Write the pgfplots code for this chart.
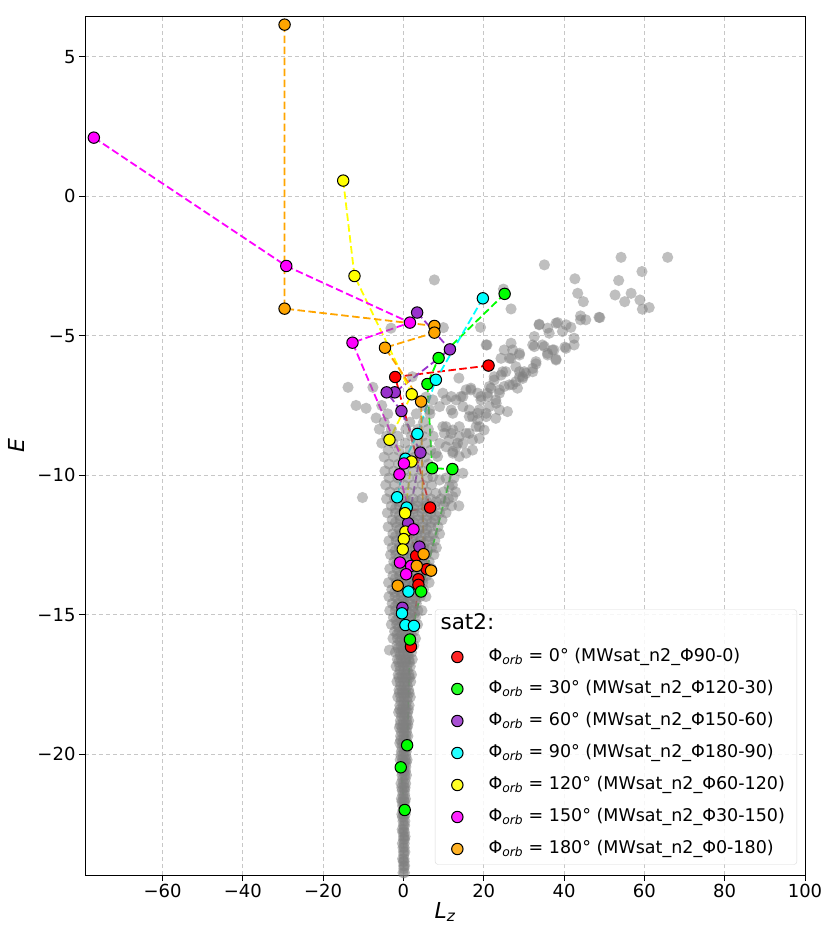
\documentclass[border=0pt]{standalone}
\usepackage{fontspec}
\setmainfont{DejaVu Sans}
\usepackage{pgfplots}
\usepackage{pgfplotstable}
\pgfplotsset{compat=1.18}

\definecolor{cRed}{RGB}{255,0,0}
\definecolor{cGreen}{RGB}{0,255,0}
\definecolor{cPurple}{RGB}{153,50,204}
\definecolor{cCyan}{RGB}{0,255,255}
\definecolor{cYellow}{RGB}{255,255,0}
\definecolor{cMagenta}{RGB}{255,0,255}
\definecolor{cOrange}{RGB}{255,165,0}

\pgfplotstableread{
x y
21.2 -6.07
-2.06 -6.48
6.64 -11.16
0.42 -11.30
3.16 -12.89
5.80 -13.37
3.73 -13.73
3.73 -13.93
1.87 -16.15
}\redData
\pgfplotstableread{
x y
25.2 -3.50
8.76 -5.80
5.97 -6.73
7.14 -9.75
12.19 -9.78
4.40 -14.17
1.62 -15.89
0.92 -19.68
-0.67 -20.47
0.32 -22.00
}\greenData
\pgfplotstableread{
x y
3.41 -4.17
11.57 -5.49
-2.16 -7.03
-4.18 -7.03
-0.50 -7.70
4.23 -9.19
1.17 -11.72
3.98 -12.56
-0.25 -14.75
}\purpleData
\pgfplotstableread{
x y
19.78 -3.66
8.08 -6.58
3.48 -8.52
0.50 -9.41
-1.57 -10.79
0.82 -11.16
1.24 -14.17
-0.37 -14.95
0.50 -15.37
2.61 -15.40
}\cyanData
\pgfplotstableread{
x y
-15.0 0.56
-12.19 -2.86
2.06 -7.10
-3.48 -8.73
1.99 -9.51
0.42 -11.36
0.50 -12.02
0.07 -12.29
-0.17 -12.66
}\yellowData
\pgfplotstableread{
x y
-77.1 2.10
-29.18 -2.50
1.62 -4.53
-12.69 -5.25
0.12 -9.58
-1.0 -9.97
2.49 -11.94
-0.87 -13.13
1.92 -13.25
0.67 -13.55
}\magentaData
\pgfplotstableread{
x y
-29.6 6.15
-29.6 -4.03
7.71 -4.65
7.71 -4.89
-4.60 -5.43
4.40 -7.36
5.02 -12.83
6.89 -13.42
3.31 -13.25
-1.42 -13.96
}\orangeData

\pgfplotstableread{
x y
-0.1 -24.25
0.25 -24.25
0.05 -24.0
0.3 -24.0
-0.2 -23.75
0.15 -23.75
0.0 -23.5
0.35 -23.5
-0.25 -23.2
0.2 -23.2
0.05 -22.95
0.4 -22.95
-0.3 -22.7
0.1 -22.7
-0.1 -22.4
0.35 -22.4
-0.4 -22.15
0.05 -22.15
0.45 -22.15
-0.2 -21.85
0.25 -21.85
-0.5 -21.6
0.0 -21.6
0.5 -21.6
-0.3 -21.3
0.3 -21.3
-0.6 -21.05
0.05 -21.05
0.55 -21.05
-0.35 -20.75
0.3 -20.75
0.75 -20.75
-0.6 -20.45
0.0 -20.45
0.6 -20.45
-0.8 -20.2
-0.2 -20.2
0.45 -20.2
0.9 -20.2
-0.5 -19.9
0.15 -19.9
0.7 -19.9
-0.9 -19.6
-0.25 -19.6
0.35 -19.6
0.95 -19.6
-0.7 -19.35
0.05 -19.35
0.65 -19.35
1.1 -19.35
-1.0 -19.05
-0.35 -19.05
0.3 -19.05
0.9 -19.05
-0.75 -18.8
0.0 -18.8
0.75 -18.8
1.3 -18.8
-1.2 -18.5
-0.5 -18.5
0.3 -18.5
1.05 -18.5
-0.9 -18.25
-0.1 -18.25
0.6 -18.25
1.4 -18.25
-1.4 -17.95
-0.6 -17.95
0.2 -17.95
1.0 -17.95
1.7 -17.95
-1.1 -17.7
-0.3 -17.7
0.5 -17.7
1.3 -17.7
-1.6 -17.4
-0.8 -17.4
0.1 -17.4
0.9 -17.4
1.8 -17.4
-1.3 -17.15
-0.4 -17.15
0.5 -17.15
1.4 -17.15
2.0 -17.15
-1.8 -16.85
-0.9 -16.85
0.0 -16.85
0.9 -16.85
1.7 -16.85
-1.5 -16.6
-0.5 -16.6
0.5 -16.6
1.4 -16.6
2.2 -16.6
-2.0 -16.35
-1.0 -16.35
0.0 -16.35
1.0 -16.35
2.0 -16.35
-3.5 -16.27
-1.6 -16.1
-0.6 -16.1
0.4 -16.1
1.5 -16.1
2.6 -16.1
-2.6 -15.85
-1.5 -15.85
-0.4 -15.85
0.7 -15.85
1.8 -15.85
3.0 -15.85
-2.2 -15.6
-1.0 -15.6
0.2 -15.6
1.4 -15.6
2.6 -15.6
-3.0 -15.35
-1.7 -15.35
-0.4 -15.35
0.9 -15.35
2.2 -15.35
3.5 -15.35
-2.5 -15.1
-1.2 -15.1
0.2 -15.1
1.6 -15.1
3.0 -15.1
-3.4 -14.85
-2.0 -14.85
-0.6 -14.85
0.8 -14.85
2.2 -14.85
3.6 -14.85
4.6 -14.85
-2.8 -14.6
-1.4 -14.6
0.2 -14.6
1.7 -14.6
3.2 -14.6
-3.6 -14.35
-2.1 -14.35
-0.6 -14.35
1.0 -14.35
2.6 -14.35
4.2 -14.35
5.6 -14.35
-2.9 -14.1
-1.3 -14.1
0.3 -14.1
2.0 -14.1
3.6 -14.1
5.0 -14.1
-3.7 -13.85
-1.8 -13.85
-0.2 -13.85
1.4 -13.85
3.1 -13.85
4.8 -13.85
6.4 -13.85
-2.6 -13.6
-1.0 -13.6
0.7 -13.6
2.4 -13.6
4.1 -13.6
5.8 -13.6
-3.4 -13.35
-1.6 -13.35
0.1 -13.35
1.8 -13.35
3.6 -13.35
5.4 -13.35
7.0 -13.35
-2.4 -13.1
-0.8 -13.1
1.0 -13.1
2.8 -13.1
4.6 -13.1
6.4 -13.1
-3.2 -12.85
-1.9 -12.85
0.0 -12.85
1.9 -12.85
3.8 -12.85
5.7 -12.85
7.6 -12.85
-2.8 -12.6
-1.0 -12.6
1.0 -12.6
3.0 -12.6
5.0 -12.6
7.0 -12.6
8.2 -12.6
-3.6 -12.35
-1.8 -12.35
0.2 -12.35
2.2 -12.35
4.2 -12.35
6.2 -12.35
7.8 -12.35
-2.6 -12.1
-0.6 -12.1
1.4 -12.1
3.4 -12.1
5.4 -12.1
7.4 -12.1
9.0 -12.1
-3.8 -11.85
-1.6 -11.85
0.4 -11.85
2.6 -11.85
4.8 -11.85
6.8 -11.85
8.6 -11.85
-2.8 -11.6
-0.8 -11.6
1.4 -11.6
3.6 -11.6
5.8 -11.6
7.8 -11.6
9.6 -11.6
-4.0 -11.35
-2.0 -11.35
0.2 -11.35
2.4 -11.35
4.6 -11.35
6.8 -11.35
9.0 -11.35
10.6 -11.35
-3.0 -11.1
-1.0 -11.1
1.2 -11.1
3.4 -11.1
5.6 -11.1
7.8 -11.1
10.0 -11.1
12.0 -11.1
13.8 -11.1
-4.2 -10.85
-2.2 -10.85
0.2 -10.85
2.4 -10.85
4.6 -10.85
6.8 -10.85
9.4 -10.85
11.2 -10.85
-10.2 -10.8
-3.4 -10.6
-1.2 -10.6
1.2 -10.6
3.6 -10.6
5.8 -10.6
10.0 -10.6
13.0 -10.6
-4.4 -10.35
-2.2 -10.35
0.2 -10.35
2.4 -10.35
4.8 -10.35
7.0 -10.35
12.2 -10.35
-3.6 -10.1
-1.4 -10.1
1.2 -10.1
3.6 -10.1
6.0 -10.1
10.6 -10.1
12.6 -10.1
-4.6 -9.85
-2.4 -9.85
0.0 -9.85
2.4 -9.85
4.8 -9.85
-3.6 -9.6
-1.2 -9.6
1.4 -9.6
3.8 -9.6
6.2 -9.6
-4.8 -9.35
-2.4 -9.35
0.2 -9.35
2.8 -9.35
5.4 -9.35
-3.8 -9.1
-1.2 -9.1
1.6 -9.1
4.2 -9.1
6.8 -9.1
-5.4 -8.85
-2.6 -8.85
0.4 -8.85
3.2 -8.85
5.6 -8.85
-4.2 -8.6
-1.4 -8.6
2.0 -8.6
4.8 -8.6
7.4 -8.6
-6.0 -8.35
-3.0 -8.35
0.6 -8.35
3.6 -8.35
6.2 -8.35
-4.8 -8.1
1.6 -8.1
5.0 -8.1
-6.8 -7.95
-3.9 -7.8
3.2 -7.8
6.6 -7.8
-11.8 -7.5
-5.4 -7.5
4.8 -7.5
-9.3 -7.6
5.6 -7.2
-13.8 -6.85
-7.6 -6.85
2.2 -6.47
-3.1 -4.73
7.3 -10.05
9.0 -10.17
11.4 -10.41
8.1 -10.65
12.3 -10.77
14.8 -9.93
8.5 -9.33
8.1 -9.21
9.0 -8.86
10.2 -8.50
10.6 -8.98
12.3 -9.21
12.3 -9.15
13.9 -9.33
15.6 -9.21
17.2 -9.10
13.1 -8.98
14.8 -8.86
11.4 -8.74
13.5 -8.85
13.9 -8.62
17.2 -8.73
18.9 -8.68
15.6 -8.50
16.4 -8.50
11.9 -8.50
12.3 -8.38
20.1 -8.38
10.6 -8.26
9.8 -8.26
13.9 -8.26
18.1 -8.26
18.9 -8.26
18.5 -8.02
16.4 -7.90
17.2 -7.90
20.6 -7.90
23.0 -7.96
12.3 -7.78
18.5 -7.78
20.6 -7.78
25.9 -7.72
11.9 -7.66
16.4 -7.66
18.9 -7.66
23.9 -7.66
6.5 -7.66
9.0 -7.54
14.8 -7.54
21.4 -7.54
23.1 -7.42
7.3 -7.30
10.6 -7.30
13.1 -7.30
19.3 -7.30
23.0 -7.30
11.9 -7.18
14.3 -7.18
14.8 -7.18
19.3 -7.18
21.0 -7.18
9.8 -7.06
18.5 -7.06
20.9 -7.06
23.9 -7.06
15.6 -6.94
16.8 -6.94
23.9 -6.94
16.8 -6.88
21.8 -6.88
28.4 -6.88
21.4 -6.82
25.1 -6.82
26.4 -6.76
27.2 -6.76
28.0 -6.65
8.1 -6.59
22.6 -6.59
13.8 -6.52
29.7 -6.53
22.6 -6.47
28.9 -6.47
29.7 -6.47
24.3 -6.41
30.5 -6.35
24.7 -6.29
25.5 -6.29
28.9 -6.29
30.1 -6.29
32.2 -6.29
32.2 -6.17
28.0 -6.11
33.0 -6.01
33.0 -5.93
38.0 -5.87
38.0 -5.84
24.3 -5.81
26.4 -5.81
26.8 -5.81
28.9 -5.69
35.9 -5.69
28.9 -5.63
35.9 -5.63
25.1 -5.51
27.2 -5.51
37.1 -5.51
37.5 -5.51
40.5 -5.45
40.2 -5.41
32.6 -5.39
35.1 -5.39
20.6 -5.33
20.8 -5.33
32.2 -5.33
34.6 -5.33
42.5 -5.33
26.8 -5.27
42.5 -5.09
32.6 -5.03
36.3 -4.91
39.6 -4.85
35.9 -4.73
19.2 -4.70
41.7 -4.70
9.95 -4.71
33.8 -4.61
40.5 -4.61
33.8 -4.59
38.0 -4.55
38.4 -4.53
44.1 -4.43
45.4 -4.43
48.9 -4.35
48.7 -4.34
44.1 -4.29
26.8 -4.04
59.5 -4.05
61.2 -3.99
44.8 -3.78
55.1 -3.78
58.9 -3.72
52.7 -3.54
43.4 -3.48
56.7 -3.48
24.9 -3.33
7.7 -3.00
42.7 -2.96
53.6 -3.02
59.4 -2.70
35.1 -2.46
54.2 -2.19
65.8 -2.19
0.1 -24.1
-0.05 -23.85
0.2 -23.85
0.1 -23.6
-0.1 -23.35
0.2 -23.35
0.0 -23.05
0.3 -23.05
-0.15 -22.8
0.25 -22.8
0.0 -22.55
0.3 -22.55
-0.25 -22.25
0.15 -22.25
-0.1 -22.0
0.3 -22.0
-0.35 -21.7
0.1 -21.7
0.35 -21.7
-0.15 -21.45
0.3 -21.45
-0.4 -21.2
0.1 -21.2
0.4 -21.2
-0.2 -20.9
0.4 -20.9
-0.45 -20.6
0.1 -20.6
0.5 -20.6
-0.3 -20.3
0.25 -20.3
0.7 -20.3
-0.6 -20.05
0.0 -20.05
0.6 -20.05
-0.4 -19.75
0.3 -19.75
0.8 -19.75
-0.7 -19.5
0.0 -19.5
0.6 -19.5
-0.5 -19.2
0.15 -19.2
0.75 -19.2
-0.8 -18.95
-0.1 -18.95
0.6 -18.95
1.1 -18.95
-0.5 -18.65
0.2 -18.65
0.9 -18.65
-0.9 -18.4
-0.2 -18.4
0.5 -18.4
1.2 -18.4
-0.6 -18.1
0.1 -18.1
0.9 -18.1
-1.0 -17.8
-0.2 -17.8
0.6 -17.8
1.4 -17.8
-0.7 -17.55
0.2 -17.55
1.0 -17.55
-1.1 -17.25
-0.2 -17.25
0.7 -17.25
1.5 -17.25
-0.8 -17.0
0.1 -17.0
1.0 -17.0
-1.2 -16.7
-0.3 -16.7
0.6 -16.7
1.5 -16.7
-0.8 -16.45
0.2 -16.45
1.2 -16.45
-1.3 -16.2
-0.2 -16.2
0.8 -16.2
1.8 -16.2
-0.9 -15.95
0.1 -15.95
1.2 -15.95
-1.6 -15.7
-0.5 -15.7
0.6 -15.7
1.9 -15.7
-1.2 -15.45
0.0 -15.45
1.1 -15.45
2.2 -15.45
-1.8 -15.2
-0.6 -15.2
0.6 -15.2
1.9 -15.2
-1.2 -14.95
0.0 -14.95
1.4 -14.95
2.8 -14.95
-2.0 -14.7
-0.6 -14.7
0.8 -14.7
2.4 -14.7
-1.4 -14.45
0.0 -14.45
1.6 -14.45
3.2 -14.45
-2.2 -14.2
-0.6 -14.2
1.0 -14.2
2.6 -14.2
4.0 -14.2
-1.0 -13.95
0.6 -13.95
2.2 -13.95
3.8 -13.95
-2.0 -13.7
-0.2 -13.7
1.5 -13.7
3.2 -13.7
4.8 -13.7
-1.0 -13.45
0.8 -13.45
2.6 -13.45
4.4 -13.45
-1.8 -13.2
0.0 -13.2
1.8 -13.2
3.8 -13.2
5.6 -13.2
-1.0 -12.95
1.0 -12.95
3.0 -12.95
4.8 -12.95
-2.0 -12.7
0.0 -12.7
2.0 -12.7
4.0 -12.7
6.0 -12.7
-1.0 -12.45
1.2 -12.45
3.2 -12.45
5.2 -12.45
-2.0 -12.2
0.2 -12.2
2.4 -12.2
4.4 -12.2
6.4 -12.2
-1.0 -11.95
1.4 -11.95
3.6 -11.95
5.8 -11.95
-2.0 -11.7
0.4 -11.7
2.6 -11.7
4.8 -11.7
7.0 -11.7
-1.0 -11.45
1.4 -11.45
3.6 -11.45
5.8 -11.45
8.0 -11.45
-2.0 -11.2
0.4 -11.2
2.6 -11.2
4.8 -11.2
7.0 -11.2
-1.0 -10.95
1.4 -10.95
3.6 -10.95
5.8 -10.95
8.2 -10.95
10.4 -10.95
}\grayData

\begin{document}
\begin{tikzpicture}
\path[use as bounding box] (-85pt,-63pt) rectangle (745pt,875pt);
\begin{axis}[
  at={(0pt,0pt)}, anchor=south west,
  scale only axis, width=720pt, height=859pt,
  xmin=-79.3, xmax=100, ymin=-24.33, ymax=6.46,
  xtick={-60,-40,-20,0,20,40,60,80,100},
  xticklabels={−60,−40,−20,0,20,40,60,80,100},
  ytick={-20,-15,-10,-5,0,5},
  yticklabels={−20,−15,−10,−5,0,5},
  ticklabel style={font=\fontsize{18}{20}\selectfont},
  tick align=outside, tick pos=left,
  major tick length=6pt,
  tick style={black, line width=0.9pt},
  axis line style={line width=0.9pt},
  grid=major,
  major grid style={dash pattern=on 4pt off 3pt, color=black!22, line width=0.8pt},
  xlabel={{\itshape L}\textsubscript{\itshape z}},
  ylabel={{\itshape E}},
  label style={font=\fontsize{22}{24}\selectfont},
  xlabel style={at={(axis description cs:0.5,-0.0431)}, anchor=center},
  ylabel style={at={(axis description cs:-0.0958,0.5)}, anchor=center},
  legend style={
    at={(0.989,0.012)}, anchor=south east,
    draw=black!15, rounded corners=3pt, fill=white, fill opacity=0.85, text opacity=1,
    inner xsep=10pt, inner ysep=5pt,
    font=\fontsize{17.5}{20}\selectfont,
    row sep=11pt,
    nodes={inner sep=2pt, text height=13pt, text depth=4pt},
    /tikz/every odd column/.append style={column sep=19pt},
  },
  legend cell align=left,
  legend image code/.code={\path (0pt,0pt) (22pt,0pt); \draw[#1] plot coordinates {(12pt,0pt)};},
]
\addlegendimage{empty legend}
\addlegendentry{\hspace*{-48pt}\fontsize{21.5}{24}\selectfont sat2:}

\addplot[only marks, mark=*, mark size=5.6pt, gray, mark options={fill=gray, draw=gray, draw opacity=0, fill opacity=0.5}, forget plot] table {\grayData};

\pgfplotsset{traj/.style={dash pattern=on 7.5pt off 3.5pt, line width=1.8pt, forget plot}}
\addplot[traj, cRed] table {\redData};
\addplot[traj, cGreen] table {\greenData};
\addplot[traj, cPurple] table {\purpleData};
\addplot[traj, cCyan] table {\cyanData};
\addplot[traj, cYellow] table {\yellowData};
\addplot[traj, cMagenta] table {\magentaData};
\addplot[traj, cOrange] table {\orangeData};

\pgfplotsset{pts/.style={only marks, mark=*, mark size=5.7pt, mark options={draw=black, line width=1pt, fill=#1}}}
\addplot[pts=cRed] table {\redData};
\addlegendentry{Φ\textsubscript{\itshape orb} = 0° (MWsat\_n2\_Φ90-0)}
\addplot[pts=cGreen] table {\greenData};
\addlegendentry{Φ\textsubscript{\itshape orb} = 30° (MWsat\_n2\_Φ120-30)}
\addplot[pts=cPurple] table {\purpleData};
\addlegendentry{Φ\textsubscript{\itshape orb} = 60° (MWsat\_n2\_Φ150-60)}
\addplot[pts=cCyan] table {\cyanData};
\addlegendentry{Φ\textsubscript{\itshape orb} = 90° (MWsat\_n2\_Φ180-90)}
\addplot[pts=cYellow] table {\yellowData};
\addlegendentry{Φ\textsubscript{\itshape orb} = 120° (MWsat\_n2\_Φ60-120)}
\addplot[pts=cMagenta] table {\magentaData};
\addlegendentry{Φ\textsubscript{\itshape orb} = 150° (MWsat\_n2\_Φ30-150)}
\addplot[pts=cOrange] table {\orangeData};
\addlegendentry{Φ\textsubscript{\itshape orb} = 180° (MWsat\_n2\_Φ0-180)}
\end{axis}
\end{tikzpicture}
\end{document}
